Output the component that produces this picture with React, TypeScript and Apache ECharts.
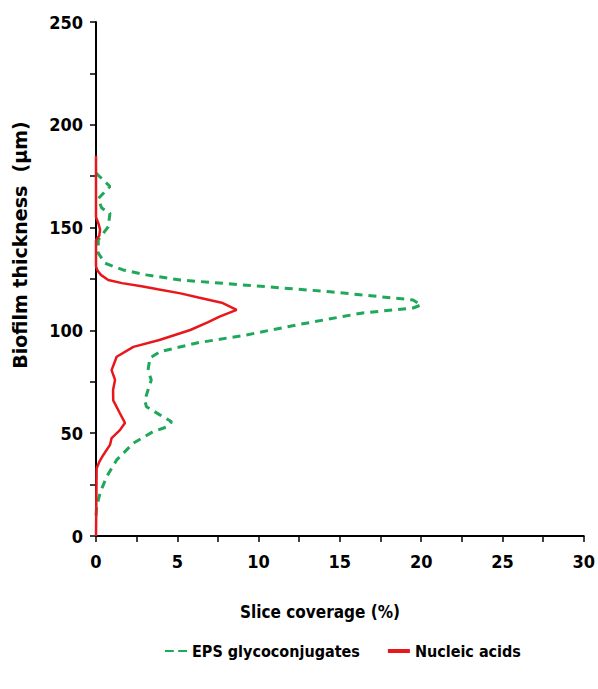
import React, { useEffect, useRef } from "react";
import * as echarts from "echarts";

// EPS glycoconjugates profile: coverage (%) at each depth (µm)
const epsThickness = [10, 14.3, 20.9, 28.8, 37, 45.2, 50.7, 53.2, 55.6, 58.9, 62.9, 66, 71, 75.9, 80.7, 86.6, 89.6, 93.9, 97.8, 102.6, 108.5, 110.9, 112.4, 114.8, 118.8, 122, 124.5, 127, 129.4, 132.7, 137.6, 144, 150.4, 157, 159.5, 164, 170, 176.5];
const epsCoverage = [0, 0.04, 0.25, 0.65, 1.27, 2.3, 3.5, 4.4, 4.65, 3.93, 3.1, 3.0, 3.2, 3.4, 3.2, 3.32, 3.93, 6.2, 9.26, 12.3, 16.4, 19.5, 20.0, 19.5, 14.4, 9.26, 5.2, 3.1, 1.67, 0.55, 0.14, 0.14, 0.75, 0.86, 0.35, 0.13, 0.86, 0];

// Nucleic acids profile
const nucleicThickness = [0, 33, 36, 39.4, 44.3, 47.6, 51.5, 55, 59.7, 66, 71, 75.9, 80.7, 87.2, 92, 95.3, 100.2, 104, 106.7, 110, 113.3, 116, 118, 120, 121.5, 123, 124.5, 127, 129, 131, 144, 146, 149, 152, 155, 185];
const nucleicCoverage = [0, 0.04, 0.2, 0.45, 0.86, 0.96, 1.47, 1.78, 1.47, 1.06, 1.05, 1.17, 0.96, 1.27, 2.3, 3.9, 5.8, 6.9, 7.6, 8.65, 7.8, 6.3, 5.2, 3.8, 2.8, 1.6, 0.75, 0.3, 0.1, 0, 0, 0.2, 0.25, 0.15, 0, 0];

const xTicks = [0, 5, 10, 15, 20, 25, 30];
const yTicks = [0, 50, 100, 150, 200, 250];

const narrow = '"DejaVu Sans Condensed", "Liberation Sans Narrow", "Arial Narrow", sans-serif';

export default function App() {
  const ref = useRef<HTMLDivElement>(null);

  useEffect(() => {
    document.body.style.margin = "0";
    if (!ref.current) return;
    const chart = echarts.init(ref.current, undefined, { renderer: "svg" });
    const pairs = (xs: number[], ys: number[]) => xs.map((x, i) => [x, ys[i]]);

    chart.setOption({
      animation: false,
      backgroundColor: "#ffffff",
      grid: { left: 96, right: 14, top: 22, bottom: 153, containLabel: false },
      xAxis: {
        type: "value",
        min: xTicks[0],
        max: xTicks[xTicks.length - 1],
        interval: 5,
        axisLine: { lineStyle: { color: "#000", width: 2 } },
        axisTick: { show: true, length: 6, lineStyle: { color: "#000", width: 1.5 } },
        minorTick: { show: true, splitNumber: 2, length: 6, lineStyle: { color: "#000", width: 1.5 } },
        splitLine: { show: false },
        axisLabel: { color: "#000", fontFamily: narrow, fontWeight: "bold", fontSize: 18, margin: 16 },
      },
      yAxis: {
        type: "value",
        min: yTicks[0],
        max: yTicks[yTicks.length - 1],
        interval: 50,
        axisLine: { show: true, lineStyle: { color: "#000", width: 2 } },
        axisTick: { show: true, length: 6, lineStyle: { color: "#000", width: 1.5 } },
        minorTick: { show: true, splitNumber: 2, length: 6, lineStyle: { color: "#000", width: 1.5 } },
        splitLine: { show: false },
        axisLabel: { color: "#000", fontFamily: narrow, fontWeight: "bold", fontSize: 18, margin: 13 },
      },
      legend: {
        top: 638,
        left: 160,
        itemWidth: 22,
        itemHeight: 4,
        itemGap: 28,
        textStyle: { color: "#000", fontFamily: narrow, fontWeight: "bold", fontSize: 16 },
        data: [
          { name: "EPS glycoconjugates", icon: "path://M0,0h8v2h-8zM12,0h8v2h-8z" },
          { name: "Nucleic acids", icon: "rect" },
        ],
      },
      graphic: [
        {
          type: "text",
          x: 20,
          y: 245,
          rotation: Math.PI / 2,
          style: {
            text: "Biofilm thickness  (µm)",
            fill: "#000",
            font: 'bold 19px "DejaVu Sans", sans-serif',
            align: "center",
            verticalAlign: "middle",
          },
        },
        {
          type: "text",
          x: 320,
          y: 612,
          style: {
            text: "Slice coverage (%)",
            fill: "#000",
            font: `bold 17px ${narrow}`,
            align: "center",
            verticalAlign: "middle",
          },
        },
      ],
      series: [
        {
          name: "EPS glycoconjugates",
          type: "line",
          showSymbol: false,
          data: pairs(epsCoverage, epsThickness),
          itemStyle: { color: "#1fa85a" },
          lineStyle: { color: "#1fa85a", width: 3, type: [8, 6] },
          z: 3,
        },
        {
          name: "Nucleic acids",
          type: "line",
          showSymbol: false,
          data: pairs(nucleicCoverage, nucleicThickness),
          itemStyle: { color: "#e8171c" },
          lineStyle: { color: "#e8171c", width: 2.5 },
          z: 4,
        },
      ],
    });
    return () => chart.dispose();
  }, []);

  return <div ref={ref} style={{ width: 598, height: 689 }} />;
}
